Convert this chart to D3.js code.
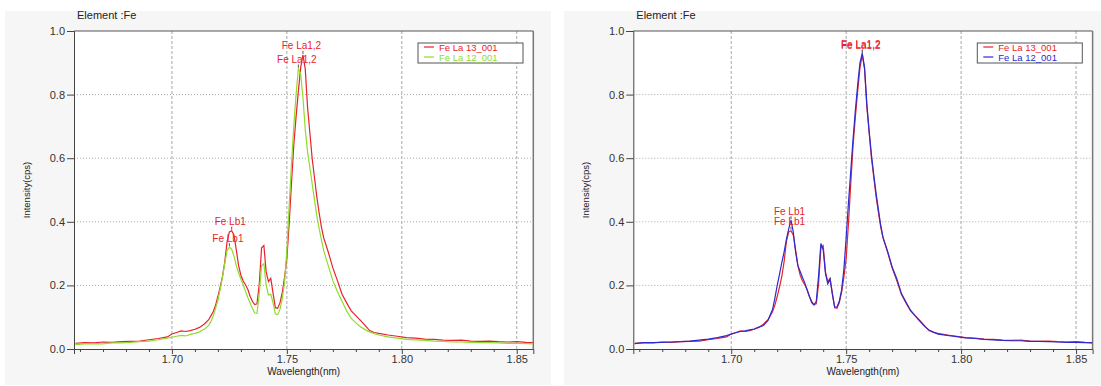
<!DOCTYPE html>
<html>
<head>
<meta charset="utf-8">
<script src="https://cdn.jsdelivr.net/npm/d3@7"></script>
<style>
  body { margin: 0; background: #fff; }
  svg { display: block; font-family: "Liberation Sans", Arial, sans-serif; }
</style>
</head>
<body>
<svg id="chart" width="1101" height="386"></svg>
<script>
// wavelength grid (nm)
const wavelength = [
  1.658, 1.662, 1.666, 1.670, 1.674, 1.678, 1.682, 1.686, 1.690, 1.694, 1.698,
  1.700, 1.702, 1.704, 1.706, 1.708, 1.710, 1.712, 1.714,
  1.716, 1.717, 1.718, 1.719, 1.720, 1.721, 1.722, 1.723, 1.724, 1.725,
  1.726, 1.727, 1.728, 1.729, 1.730, 1.731, 1.732, 1.733, 1.734, 1.735,
  1.736, 1.737, 1.738, 1.739, 1.740, 1.741, 1.742, 1.743, 1.744, 1.745,
  1.746, 1.747, 1.748, 1.749, 1.750, 1.751, 1.752, 1.753, 1.754, 1.755,
  1.756, 1.757, 1.758, 1.759, 1.760, 1.761, 1.762, 1.763, 1.764, 1.765, 1.766,
  1.768, 1.770, 1.772, 1.774, 1.776, 1.778, 1.780, 1.782, 1.784, 1.786, 1.788, 1.790,
  1.794, 1.798, 1.802, 1.806, 1.810, 1.814, 1.818, 1.822, 1.826, 1.830, 1.834, 1.838,
  1.842, 1.846, 1.850, 1.854, 1.857
];

// Fe La 13_001
const fe13 = [
  0.018, 0.020, 0.019, 0.022, 0.021, 0.023, 0.024, 0.025, 0.029, 0.033, 0.038,
  0.047, 0.052, 0.057, 0.055, 0.058, 0.062, 0.068, 0.078,
  0.092, 0.105, 0.118, 0.138, 0.165, 0.195, 0.228, 0.275, 0.338, 0.368,
  0.372, 0.358, 0.312, 0.262, 0.232, 0.214, 0.202, 0.188, 0.166, 0.150,
  0.140, 0.142, 0.205, 0.318, 0.325, 0.242, 0.212, 0.222, 0.175, 0.130,
  0.128, 0.145, 0.178, 0.225, 0.285, 0.395, 0.520, 0.640, 0.730, 0.810,
  0.885, 0.925, 0.880, 0.760, 0.680, 0.600, 0.540, 0.480, 0.430, 0.385, 0.350,
  0.305, 0.255, 0.215, 0.172, 0.145, 0.120, 0.105, 0.090, 0.074, 0.058, 0.052, 0.049,
  0.044, 0.040, 0.036, 0.034, 0.031, 0.030, 0.028, 0.027, 0.028, 0.025, 0.024, 0.025,
  0.023, 0.022, 0.023, 0.021, 0.020
];

// Fe La 12_001 (left)
const fe12 = [
  0.014, 0.016, 0.017, 0.016, 0.019, 0.019, 0.021, 0.023, 0.025, 0.029, 0.034,
  0.037, 0.040, 0.043, 0.041, 0.046, 0.049, 0.054, 0.062,
  0.074, 0.086, 0.105, 0.128, 0.154, 0.188, 0.226, 0.270, 0.310, 0.320,
  0.314, 0.292, 0.262, 0.240, 0.220, 0.202, 0.182, 0.162, 0.145, 0.128,
  0.113, 0.112, 0.175, 0.262, 0.268, 0.200, 0.170, 0.172, 0.145, 0.110,
  0.108, 0.125, 0.158, 0.210, 0.310, 0.450, 0.580, 0.700, 0.800, 0.882,
  0.866, 0.790, 0.690, 0.620, 0.570, 0.520, 0.470, 0.420, 0.380, 0.345, 0.310,
  0.262, 0.215, 0.180, 0.150, 0.120, 0.096, 0.082, 0.070, 0.061, 0.054, 0.048, 0.044,
  0.038, 0.034, 0.030, 0.029, 0.027, 0.025, 0.024, 0.022, 0.022, 0.021, 0.020, 0.020,
  0.019, 0.018, 0.018, 0.017, 0.016
];

// Fe La 12_001 (right)
const fe12b = [
  0.017, 0.020, 0.020, 0.021, 0.022, 0.023, 0.025, 0.028, 0.031, 0.036, 0.042,
  0.047, 0.051, 0.055, 0.057, 0.060, 0.063, 0.069, 0.074,
  0.090, 0.108, 0.125, 0.160, 0.200, 0.235, 0.272, 0.305, 0.345, 0.378,
  0.405, 0.368, 0.305, 0.262, 0.244, 0.225, 0.208, 0.185, 0.165, 0.146,
  0.138, 0.150, 0.230, 0.332, 0.312, 0.238, 0.205, 0.220, 0.172, 0.132,
  0.132, 0.150, 0.185, 0.250, 0.350, 0.460, 0.560, 0.660, 0.750, 0.830,
  0.900, 0.930, 0.885, 0.770, 0.685, 0.610, 0.548, 0.490, 0.440, 0.390, 0.352,
  0.308, 0.258, 0.222, 0.175, 0.148, 0.122, 0.104, 0.088, 0.072, 0.060, 0.053, 0.047,
  0.043, 0.039, 0.035, 0.033, 0.030, 0.029, 0.027, 0.026, 0.026, 0.024, 0.024, 0.023,
  0.022, 0.021, 0.021, 0.020, 0.019
];

const xTicks = [1.70, 1.75, 1.80, 1.85];
const xMinorTicks = [1.66, 1.67, 1.68, 1.69, 1.71, 1.72, 1.73, 1.74, 1.76, 1.77, 1.78, 1.79,
  1.81, 1.82, 1.83, 1.84];
const yTicks = [0.0, 0.2, 0.4, 0.6, 0.8, 1.0];
const peakNames = ['Fe La1,2', 'Fe Lb1'];
const peakWavelengths = [1.757, 1.725];
const legendNames = ['Fe La 13_001', 'Fe La 12_001'];

const svg = d3.select('#chart');
const margin = { left: 74, top: 31, right: 533.3, bottom: 349 };

const xScale = d3.scaleLinear().domain([1.6574, 1.8572]).range([margin.left, margin.right]);
const yScale = d3.scaleLinear().domain([0, 1]).range([margin.bottom, margin.top]);

const panels = [
  { dx: 0, bgX: 5, bgW: 546, series: [fe13, fe12], colors: ['#e8222b', '#8fdc2c'] },
  { dx: 559.3, bgX: 4.7, bgW: 540, series: [fe13, fe12b], colors: ['#e8222b', '#2a2ad0'] }
];

panels.forEach(p => drawPanel(p));

function drawPanel (p) {
  let g = svg.append('g').attr('transform', `translate(${p.dx}, 0)`);

  g.append('rect')
    .attr('x', p.bgX).attr('y', 11)
    .attr('width', p.bgW).attr('height', 374)
    .style('fill', '#f6f6f6');

  g.append('rect')
    .attr('x', margin.left).attr('y', margin.top)
    .attr('width', margin.right - margin.left).attr('height', margin.bottom - margin.top)
    .style('fill', '#fff');

  // grid
  g.selectAll('line.vgrid').data(xTicks).enter().append('line')
    .attr('class', 'vgrid')
    .attr('x1', d => xScale(d)).attr('x2', d => xScale(d))
    .attr('y1', margin.top).attr('y2', margin.bottom)
    .style('stroke', '#a8a8a8').style('stroke-dasharray', '3,2');

  g.selectAll('line.hgrid').data(yTicks.filter(d => d > 0 && d < 1)).enter().append('line')
    .attr('class', 'hgrid')
    .attr('x1', margin.left).attr('x2', margin.right)
    .attr('y1', d => yScale(d)).attr('y2', d => yScale(d))
    .style('stroke', '#a8a8a8').style('stroke-dasharray', '1,2');

  // frame
  g.append('line')
    .attr('x1', margin.left).attr('x2', margin.right)
    .attr('y1', margin.top).attr('y2', margin.top)
    .style('stroke', '#555');
  g.append('line')
    .attr('x1', margin.right).attr('x2', margin.right)
    .attr('y1', margin.top).attr('y2', margin.bottom)
    .style('stroke', '#777').style('stroke-width', '1.5px');

  // axes
  let xAxis = d3.axisBottom(xScale).tickValues(xTicks).tickFormat(d3.format('.2f')).tickSize(5).tickPadding(1);
  let xMinor = d3.axisBottom(xScale).tickValues(xMinorTicks).tickFormat('').tickSize(3);
  let yAxis = d3.axisLeft(yScale).tickValues(yTicks).tickFormat(d3.format('.1f')).tickSize(7).tickPadding(2);

  g.append('g').attr('transform', `translate(0, ${margin.bottom})`).call(xAxis);
  g.append('g').attr('transform', `translate(0, ${margin.bottom})`).call(xMinor).select('.domain').remove();
  g.append('g').attr('transform', `translate(${margin.left}, 0)`).call(yAxis);

  g.selectAll('.tick line').style('stroke', '#444');
  g.selectAll('.domain').style('stroke', '#444');
  g.selectAll('.tick text').style('font-size', '11px').style('fill', '#333')
    .style('font-family', '"Liberation Sans", Arial, sans-serif');

  // titles
  g.append('text')
    .attr('x', 77).attr('y', 19)
    .style('font-size', '11px').style('fill', '#222')
    .text('Element :Fe');

  g.append('text')
    .attr('x', (margin.left + margin.right) / 2).attr('y', 375)
    .attr('text-anchor', 'middle')
    .style('font-size', '10px').style('fill', '#222')
    .text('Wavelength(nm)');

  g.append('text')
    .attr('transform', `translate(27, ${(margin.top + margin.bottom) / 2}) rotate(-90)`)
    .attr('text-anchor', 'middle').attr('dominant-baseline', 'middle')
    .style('font-size', '9.5px').style('fill', '#222')
    .text('Intensity(cps)');

  // spectra
  let line = d3.line()
    .x((d, i) => xScale(wavelength[i]))
    .y(d => yScale(d));

  p.series.forEach((s, k) => {
    g.append('path')
      .datum(s)
      .attr('d', line)
      .style('fill', 'none')
      .style('stroke', p.colors[k])
      .style('stroke-width', '1.2px');
  });

  // peak labels
  p.series.forEach((s, k) => {
    peakWavelengths.forEach((wl, j) => {
      let idx = d3.range(wavelength.length).filter(i => Math.abs(wavelength[i] - wl) <= 0.003);
      let best = d3.greatest(idx, i => s[i]);
      let px = xScale(wavelength[best]);
      let py = yScale(s[best]);
      g.append('line')
        .attr('x1', px).attr('x2', px)
        .attr('y1', py - 1).attr('y2', py - 4)
        .style('stroke', '#555');
      g.append('text')
        .attr('x', px - 1.5).attr('y', py - 5.5)
        .attr('text-anchor', 'middle')
        .style('font-size', '10px').style('fill', '#e8222b')
        .text(peakNames[j]);
    });
  });

  // legend
  let lg = g.append('g').attr('transform', 'translate(418, 43)');
  lg.append('rect')
    .attr('width', 105).attr('height', 20)
    .style('fill', '#fff').style('stroke', '#555');
  legendNames.forEach((name, k) => {
    lg.append('line')
      .attr('x1', 6).attr('x2', 16)
      .attr('y1', 4 + k * 10).attr('y2', 4 + k * 10)
      .style('stroke', p.colors[k]).style('stroke-width', '1.2px');
    lg.append('text')
      .attr('x', 21).attr('y', 7.5 + k * 10)
      .style('font-size', '9.5px').style('fill', p.colors[k])
      .text(name);
  });
}
</script>
</body>
</html>
